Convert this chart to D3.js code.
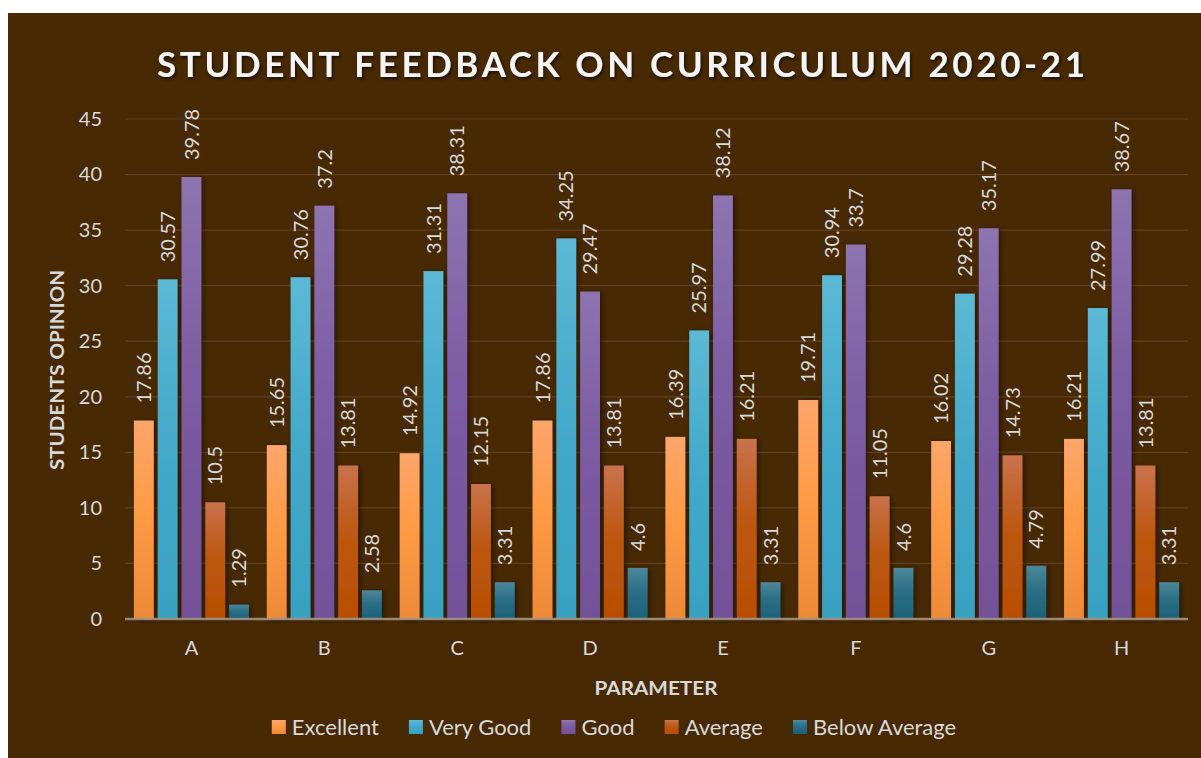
<!DOCTYPE html>
<html>
<head>
<meta charset="utf-8">
<script src="https://cdn.jsdelivr.net/npm/d3@7"></script>
<style>
  body { margin: 0; background: #ffffff; }
  svg { display: block; font-family: Lato, 'Open Sans', sans-serif; }
</style>
</head>
<body>
<svg id="chart" width="1201" height="758"></svg>
<script>
// data
var parameters = ['A', 'B', 'C', 'D', 'E', 'F', 'G', 'H'];
var seriesNames = ['Excellent', 'Very Good', 'Good', 'Average', 'Below Average'];
var excellent = [17.86, 15.65, 14.92, 17.86, 16.39, 19.71, 16.02, 16.21];
var veryGood = [30.57, 30.76, 31.31, 34.25, 25.97, 30.94, 29.28, 27.99];
var good = [39.78, 37.2, 38.31, 29.47, 38.12, 33.7, 35.17, 38.67];
var average = [10.5, 13.81, 12.15, 13.81, 16.21, 11.05, 14.73, 13.81];
var belowAverage = [1.29, 2.58, 3.31, 4.6, 3.31, 4.6, 4.79, 3.31];
var yTicks = [0, 5, 10, 15, 20, 25, 30, 35, 40, 45];

var seriesValues = [excellent, veryGood, good, average, belowAverage];
var colors = [
     ['#fba66c', '#ff9b45', '#ec8a38'],
     ['#5cb9d5', '#45aacb', '#38a1c1'],
     ['#8e74b0', '#7c5ca3', '#735198'],
     ['#c9724c', '#bd5812', '#b84e00'],
     ['#4e889a', '#2b6f86', '#1b6178']
];

var svg = d3.select('#chart');
var margin = { top: 119, left: 125, right: 13, bottom: 139 };
var width = 1201, height = 758;
var inner_width = width - margin.left - margin.right;
var inner_height = height - margin.top - margin.bottom;

svg.append('rect')
     .attr('x', 8).attr('y', 13)
     .attr('width', width - 8).attr('height', height - 13)
     .attr('fill', '#472904');

var defs = svg.append('defs');
colors.forEach(function (c, i) {
     var lg = defs.append('linearGradient')
          .attr('id', 'grad' + i)
          .attr('x1', 0).attr('y1', 0).attr('x2', 0).attr('y2', 1);
     lg.append('stop').attr('offset', '0%').attr('stop-color', c[0]);
     lg.append('stop').attr('offset', '45%').attr('stop-color', c[1]);
     lg.append('stop').attr('offset', '100%').attr('stop-color', c[2]);
});
var shadow = defs.append('filter').attr('id', 'shadow')
     .attr('x', '-50%').attr('y', '-20%').attr('width', '200%').attr('height', '140%');
shadow.append('feDropShadow')
     .attr('dx', 2).attr('dy', 1).attr('stdDeviation', 2.5)
     .attr('flood-color', '#000').attr('flood-opacity', 0.45);
var tshadow = defs.append('filter').attr('id', 'tshadow');
tshadow.append('feDropShadow')
     .attr('dx', 1.5).attr('dy', 2).attr('stdDeviation', 1.5)
     .attr('flood-color', '#000').attr('flood-opacity', 0.6);

var x_scale = d3.scaleBand().domain(parameters).range([0, inner_width]);
var x_inner = d3.scaleBand().domain(seriesNames)
     .range([0, x_scale.bandwidth()])
     .paddingInner(1 / 6).paddingOuter(0.375);
var y_scale = d3.scaleLinear().domain([0, 45]).range([inner_height, 0]);

var g = svg.append('g')
     .attr('transform', 'translate(' + margin.left + ',' + margin.top + ')');

// gridlines
g.append('g').selectAll('line')
     .data(yTicks.filter(function (t) { return t > 0; }))
     .enter().append('line')
     .attr('x1', 0).attr('x2', inner_width)
     .attr('y1', function (d) { return y_scale(d); })
     .attr('y2', function (d) { return y_scale(d); })
     .attr('stroke', '#5f4020').attr('stroke-width', 1.2);

// y axis
var y_axis = d3.axisLeft(y_scale).tickValues(yTicks).tickSize(0).tickPadding(23);
var ya = g.append('g').call(y_axis);
ya.select('.domain').remove();
ya.selectAll('text')
     .attr('fill', '#d9d9d9')
     .style('font-size', '20px')
     .style('font-family', 'Lato, sans-serif');

// bars
var groups = g.append('g').selectAll('g')
     .data(parameters)
     .enter().append('g')
     .attr('transform', function (d) { return 'translate(' + x_scale(d) + ',0)'; });

seriesNames.forEach(function (s, i) {
     groups.append('rect')
          .attr('x', x_inner(s))
          .attr('width', x_inner.bandwidth())
          .attr('y', function (d, j) { return y_scale(seriesValues[i][j]); })
          .attr('height', function (d, j) { return inner_height - y_scale(seriesValues[i][j]); })
          .attr('fill', 'url(#grad' + i + ')')
          .attr('filter', 'url(#shadow)');

     groups.append('text')
          .attr('transform', function (d, j) {
               var cx = x_inner(s) + x_inner.bandwidth() / 2;
               var cy = y_scale(seriesValues[i][j]) - 17;
               return 'translate(' + cx + ',' + cy + ') rotate(-90)';
          })
          .attr('dy', '0.36em')
          .attr('fill', '#d9d9d9')
          .style('font-size', '20px')
          .text(function (d, j) { return String(seriesValues[i][j]); });
});

// baseline
g.append('line')
     .attr('x1', 0).attr('x2', inner_width)
     .attr('y1', inner_height).attr('y2', inner_height)
     .attr('stroke', '#a8998a').attr('stroke-width', 2.5)
     .attr('stroke-opacity', 0.85);

// x axis labels
var x_axis = d3.axisBottom(x_scale).tickSize(0).tickPadding(22);
var xa = g.append('g').attr('transform', 'translate(0,' + inner_height + ')').call(x_axis);
xa.select('.domain').remove();
xa.selectAll('text')
     .attr('fill', '#d9d9d9')
     .style('font-size', '20px')
     .style('font-family', 'Lato, sans-serif');

// titles
svg.append('text')
     .attr('x', 621).attr('y', 77)
     .attr('text-anchor', 'middle')
     .attr('fill', '#f4f4f4')
     .attr('textLength', 928).attr('lengthAdjust', 'spacing')
     .attr('filter', 'url(#tshadow)')
     .style('font-size', '35px').style('font-weight', 'bold')
     .text('STUDENT FEEDBACK ON CURRICULUM 2020-21');

svg.append('text')
     .attr('transform', 'translate(64,370) rotate(-90)')
     .attr('text-anchor', 'middle')
     .attr('fill', '#d9d9d9')
     .attr('textLength', 200).attr('lengthAdjust', 'spacingAndGlyphs')
     .style('font-size', '19px').style('font-weight', 'bold')
     .text('STUDENTS OPINION');

svg.append('text')
     .attr('x', 656).attr('y', 695)
     .attr('text-anchor', 'middle')
     .attr('fill', '#d9d9d9')
     .attr('textLength', 123).attr('lengthAdjust', 'spacingAndGlyphs')
     .style('font-size', '19px').style('font-weight', 'bold')
     .text('PARAMETER');

// legend
var legend = svg.append('g');
var lx = 0;
seriesNames.forEach(function (s, i) {
     var item = legend.append('g').attr('transform', 'translate(' + lx + ',0)');
     item.append('rect')
          .attr('x', 0).attr('y', 720)
          .attr('width', 14).attr('height', 14)
          .attr('fill', 'url(#grad' + i + ')');
     var t = item.append('text')
          .attr('x', 20).attr('y', 735)
          .attr('fill', '#d9d9d9')
          .style('font-size', '22px')
          .text(s);
     lx += 20 + t.node().getComputedTextLength() + 30;
});
lx -= 30;
legend.attr('transform', 'translate(' + (614 - lx / 2) + ',0)');
</script>
</body>
</html>
